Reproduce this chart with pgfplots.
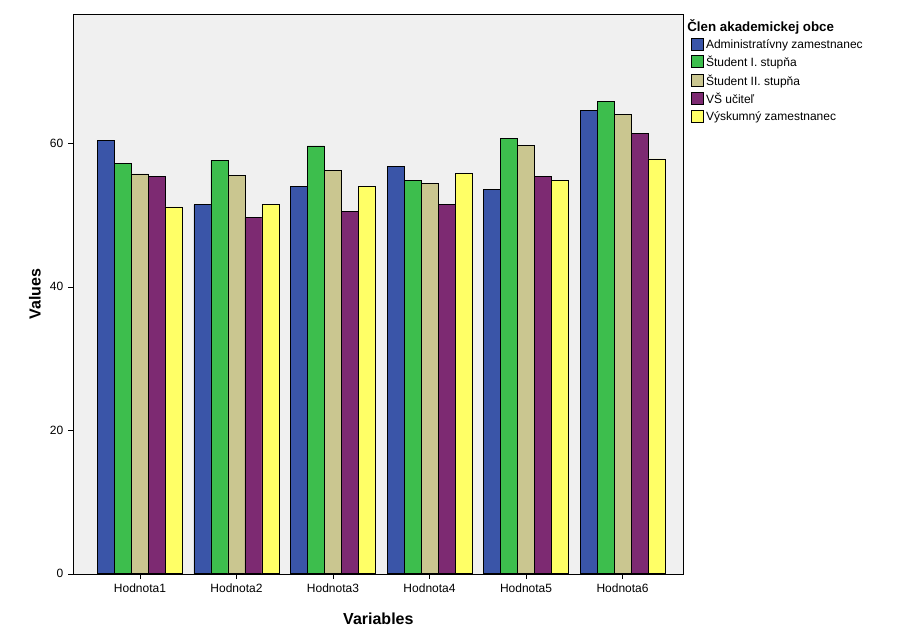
\documentclass[border=0pt]{standalone}
\usepackage{pgfplots}
\pgfplotsset{compat=1.18}
\usepackage{fontspec}
\setmainfont{Liberation Sans}
\definecolor{cA}{HTML}{3A55A8}
\definecolor{cB}{HTML}{3DBE4D}
\definecolor{cC}{HTML}{CAC690}
\definecolor{cD}{HTML}{7D2A72}
\definecolor{cE}{HTML}{FFFF66}
\begin{document}
\begin{tikzpicture}[x=0.75pt,y=0.75pt]
\useasboundingbox (0,0) rectangle (923,637);
\begin{axis}[at={(76,88)},anchor=south west,
 scale only axis, width=457.5pt, height=420pt,
 ybar=0pt, bar width=12.75pt,
 xmin=-0.69, xmax=5.63, ymin=0, ymax=78,
 xtick={0,...,5}, xticklabels={Hodnota1,Hodnota2,Hodnota3,Hodnota4,Hodnota5,Hodnota6},
 ytick={0,20,40,60}, tick style={black}, major tick length=4pt,
 tick align=outside, xtick pos=bottom, ytick pos=left,
 axis background/.style={fill=black!6},
 ticklabel style={font=\small}, /pgf/number format/assume math mode=true,
 xlabel={\textbf{Variables}}, ylabel={\textbf{Values}},
 xlabel style={yshift=-8pt},
 label style={font=\large},
 every axis plot/.append style={draw=black, line width=0.5pt},
 legend style={at={(1.005,1)},anchor=north west,draw=none,fill=none,font=\small,
   cells={anchor=west}, row sep=0.5pt},
 legend image code/.code={\draw[#1] (0pt,-4pt) rectangle (9pt,5pt);},
]
\addlegendimage{empty legend}
\addplot[fill=cA] coordinates {(0,60.4)(1,51.4)(2,54.0)(3,56.7)(4,53.6)(5,64.6)};
\addplot[fill=cB] coordinates {(0,57.2)(1,57.6)(2,59.6)(3,54.8)(4,60.6)(5,65.8)};
\addplot[fill=cC] coordinates {(0,55.7)(1,55.5)(2,56.2)(3,54.4)(4,59.7)(5,64.0)};
\addplot[fill=cD] coordinates {(0,55.3)(1,49.6)(2,50.5)(3,51.5)(4,55.4)(5,61.4)};
\addplot[fill=cE] coordinates {(0,51.1)(1,51.5)(2,54.0)(3,55.8)(4,54.8)(5,57.8)};
\legend{\hspace{-14pt}\textbf{\normalsize Člen akademickej obce},Administratívny zamestnanec,Študent I. stupňa,Študent II. stupňa,VŠ učiteľ,Výskumný zamestnanec}
\end{axis}
\end{tikzpicture}
\end{document}
